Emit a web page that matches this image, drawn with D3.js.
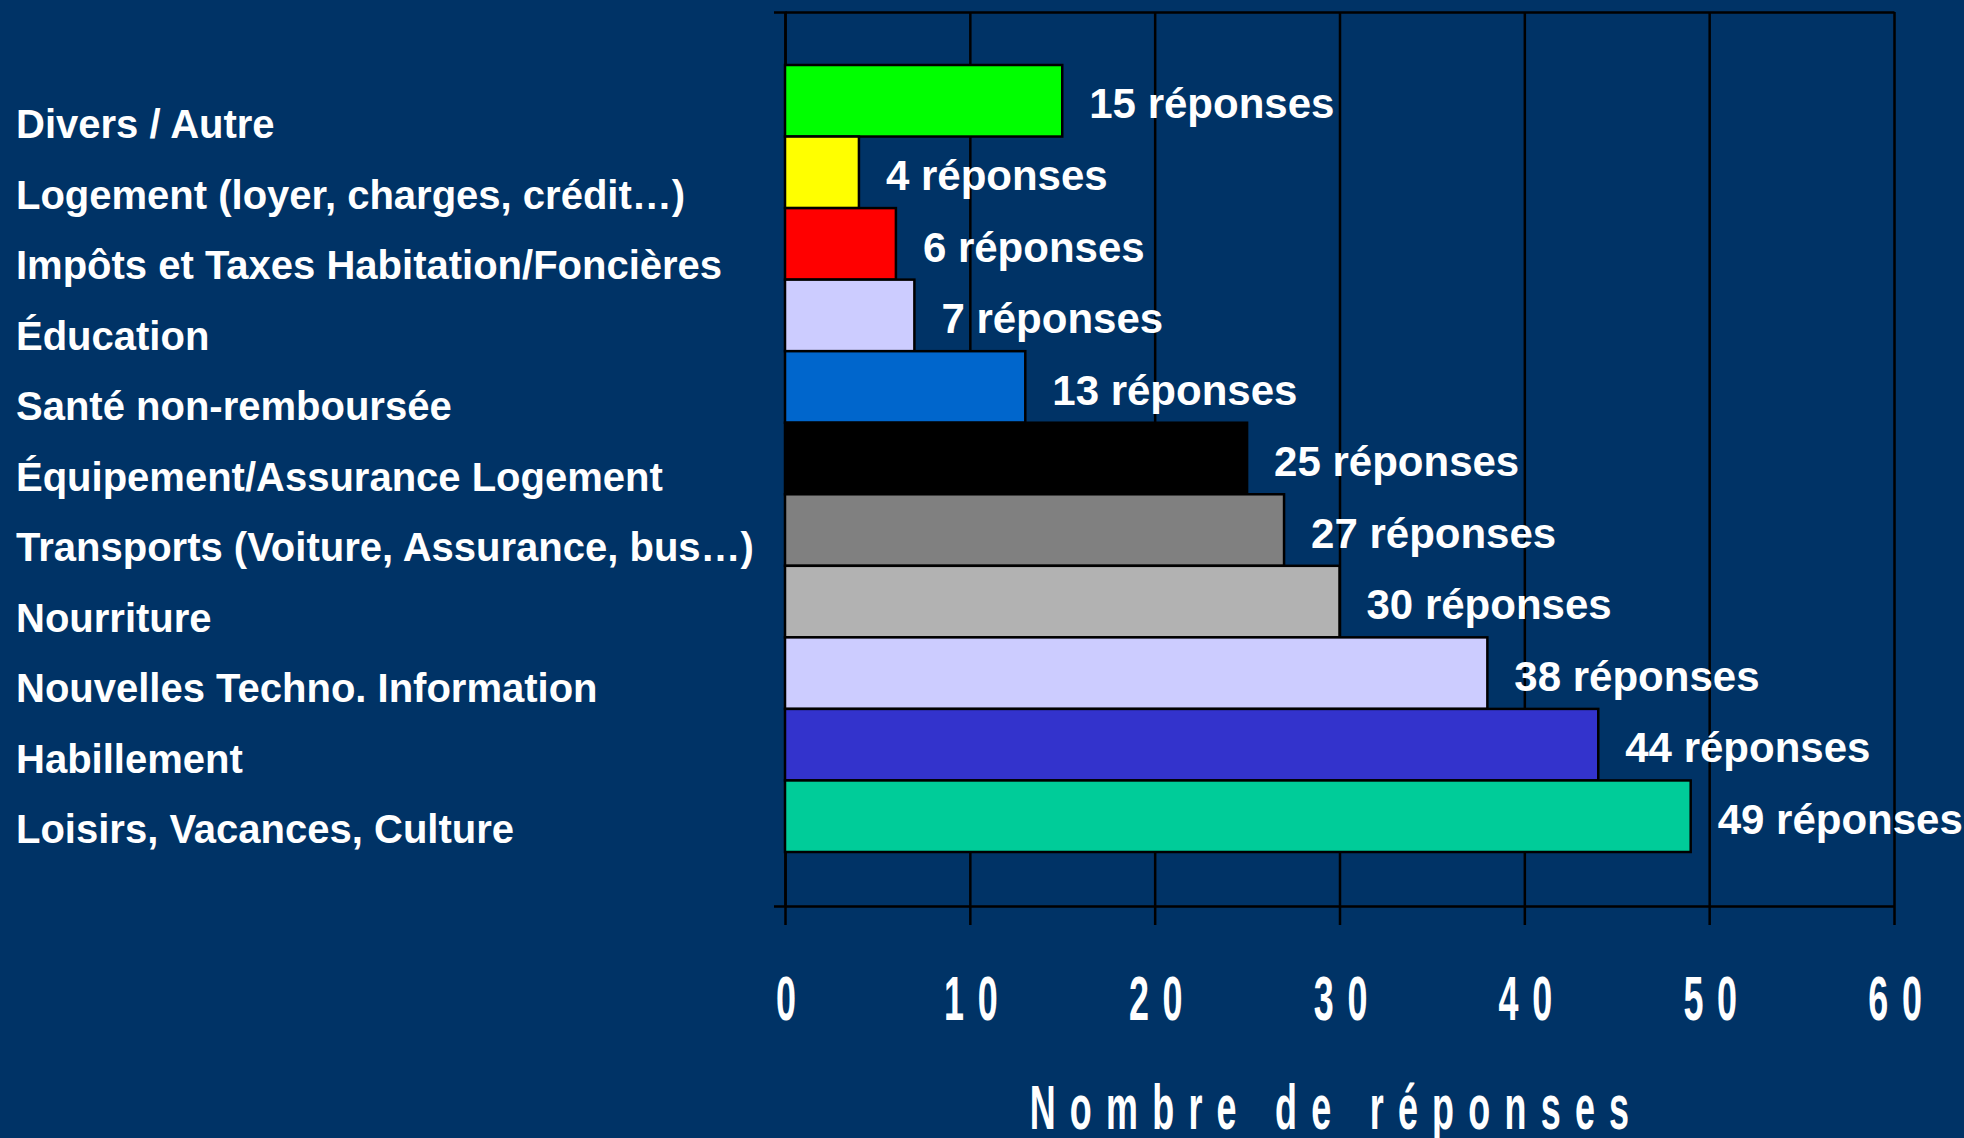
<!DOCTYPE html>
<html>
<head>
<meta charset="utf-8">
<script src="https://cdn.jsdelivr.net/npm/d3@7"></script>
<style>
  html, body { margin: 0; padding: 0; background: #003366; }
  svg { display: block; }
</style>
</head>
<body>
<div class="chart-container"></div>
<script>
//! CONSTS
const WIDTH = 1964;
const HEIGHT = 1138;
const BG = '#003366';
const FONT = '"Liberation Sans", Arial, sans-serif';

//! DATA
const categories = [
  'Divers / Autre',
  'Logement (loyer, charges, crédit…)',
  'Impôts et Taxes Habitation/Foncières',
  'Éducation',
  'Santé non-remboursée',
  'Équipement/Assurance Logement',
  'Transports (Voiture, Assurance, bus…)',
  'Nourriture',
  'Nouvelles Techno. Information',
  'Habillement',
  'Loisirs, Vacances, Culture'
];
const responses = [15, 4, 6, 7, 13, 25, 27, 30, 38, 44, 49];
const barColors = ['#00ff00', '#ffff00', '#ff0000', '#ccccff', '#0066cc', '#000000',
  '#808080', '#b2b2b2', '#ccccff', '#3333cc', '#00cc99'];
const xTicks = [0, 10, 20, 30, 40, 50, 60];
const valueSuffix = ' réponses';
const axisTitle = 'Nombre de réponses';

const data = categories.map((c, i) => ({ cat: c, value: responses[i], color: barColors[i] }));

//! LAYOUT
const PLOT = { left: 785, right: 1894, top: 12, bottom: 906 };

//! SVG
const svg = d3.select('.chart-container')
  .append('svg')
  .attr('width', WIDTH)
  .attr('height', HEIGHT)
  .style('background', BG);

// scales
const x = d3.scaleLinear().domain([0, 60]).range([PLOT.left, PLOT.right]);
const y = d3.scaleBand().domain(categories).range([65, 852]).paddingInner(0).paddingOuter(0);
const yLabel = d3.scalePoint().domain(categories).range([124, 829]);
const yFrame = d3.scaleBand().domain(['frame']).range([PLOT.top, PLOT.bottom]);

// vertical grid lines
svg.append('g')
  .attr('class', 'grid')
  .attr('transform', `translate(0, ${PLOT.bottom})`)
  .call(d3.axisBottom(x).tickValues(xTicks).tickSize(-(PLOT.bottom - PLOT.top)).tickFormat(''))
  .call(g => g.select('.domain').remove())
  .call(g => g.selectAll('line').attr('stroke', '#000').attr('stroke-width', 2.5));

// top frame line
svg.append('g')
  .attr('transform', `translate(0, ${PLOT.top})`)
  .call(d3.axisTop(x).tickValues([]).tickSizeOuter(0))
  .call(g => g.select('.domain').attr('stroke', '#000').attr('stroke-width', 2.5));

// left axis with small outer ticks
svg.append('g')
  .attr('transform', `translate(${PLOT.left}, 0)`)
  .call(d3.axisLeft(yFrame).tickValues([]).tickSizeOuter(11))
  .call(g => g.select('.domain').attr('stroke', '#000').attr('stroke-width', 2.5).attr('fill', 'none'));

// bars
svg.append('g')
  .attr('class', 'bars')
  .selectAll('rect')
  .data(data)
  .enter()
  .append('rect')
  .attr('x', x(0))
  .attr('y', d => y(d.cat))
  .attr('width', d => x(d.value) - x(0))
  .attr('height', y.bandwidth())
  .attr('fill', d => d.color)
  .attr('stroke', '#000')
  .attr('stroke-width', 2.5);

// bottom axis: line, ticks, labels
const xAxis = svg.append('g')
  .attr('class', 'x-axis')
  .attr('transform', `translate(0, ${PLOT.bottom})`)
  .call(d3.axisBottom(x).tickValues(xTicks).tickSize(19).tickSizeOuter(0));

xAxis.select('.domain').attr('stroke', '#000').attr('stroke-width', 2.5);
xAxis.selectAll('.tick line').attr('stroke', '#000').attr('stroke-width', 2.5);
xAxis.selectAll('.tick text')
  .attr('x', 13)
  .attr('y', 1020 - PLOT.bottom)
  .attr('dy', 0)
  .attr('transform', 'scale(0.57,1)')
  .attr('fill', '#fff')
  .style('font-family', FONT)
  .style('font-weight', 'bold')
  .style('font-size', '63px')
  .style('letter-spacing', '24px');

// category labels
svg.append('g')
  .attr('class', 'categories')
  .selectAll('text')
  .data(data)
  .enter()
  .append('text')
  .attr('x', 16)
  .attr('y', d => yLabel(d.cat))
  .attr('dy', '0.35em')
  .attr('fill', '#fff')
  .style('font-family', FONT)
  .style('font-weight', 'bold')
  .style('font-size', '40px')
  .text(d => d.cat);

// value labels
svg.append('g')
  .attr('class', 'values')
  .selectAll('text')
  .data(data)
  .enter()
  .append('text')
  .attr('x', d => x(d.value) + 27)
  .attr('y', d => y(d.cat) + y.bandwidth() / 2 + 3)
  .attr('dy', '0.35em')
  .attr('fill', '#fff')
  .style('font-family', FONT)
  .style('font-weight', 'bold')
  .style('font-size', '42px')
  .text(d => d.value + valueSuffix);

// axis title
svg.append('g')
  .attr('transform', `translate(${(PLOT.left + PLOT.right) / 2 - 3}, 1129)`)
  .append('text')
  .attr('text-anchor', 'middle')
  .attr('transform', 'scale(0.57,1)')
  .attr('fill', '#fff')
  .style('font-family', FONT)
  .style('font-weight', 'bold')
  .style('font-size', '63px')
  .style('letter-spacing', '25px')
  .text(axisTitle);
</script>
</body>
</html>
